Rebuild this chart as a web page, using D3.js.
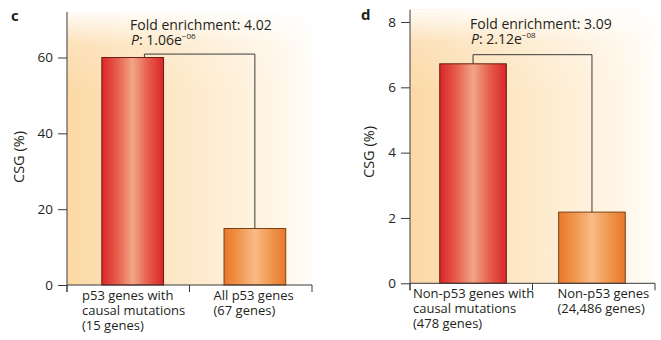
<!DOCTYPE html>
<html><head><meta charset="utf-8">
<script src="https://cdn.jsdelivr.net/npm/d3@7"></script>
<style>
body{margin:0;background:#fff;}
text{font-family:"Open Sans","Noto Sans",sans-serif;fill:#231f20;}
</style></head>
<body><svg id="chart" width="661" height="340"></svg>
<script>
// ---- data ----
const panelLetters = ["c", "d"];
const categoriesC = ["p53 genes with causal mutations", "All p53 genes"];
const categoryLinesC = [["p53 genes with", "causal mutations", "(15 genes)"], ["All p53 genes", "(67 genes)"]];
const valuesC = [60, 14.9];
const ticksC = [0, 20, 40, 60];
const foldC = "4.02";
const pValueC = ["1.06e", "−06"];

const categoriesD = ["Non-p53 genes with causal mutations", "Non-p53 genes"];
const categoryLinesD = [["Non-p53 genes with", "causal mutations", "(478 genes)"], ["Non-p53 genes", "(24,486 genes)"]];
const valuesD = [6.72, 2.18];
const ticksD = [0, 2, 4, 6, 8];
const foldD = "3.09";
const pValueD = ["2.12e", "−08"];

const yLabel = "CSG (%)";

// ---- drawing ----
const svg = d3.select("#chart");
const defs = svg.append("defs");

function grad(id, stops, x2 = "100%", y2 = "0%") {
  const g = defs.append("linearGradient").attr("id", id)
    .attr("x1", "0%").attr("y1", "0%").attr("x2", x2).attr("y2", y2);
  stops.forEach(([o, c, op]) => g.append("stop").attr("offset", o).attr("stop-color", c).attr("stop-opacity", op === undefined ? 1 : op));
}
grad("bgH", [["0%", "#fcd9a6"], ["45%", "#fde8c6"], ["85%", "#fff5e6"], ["100%", "#fffdf9"]]);
grad("bgV", [["0%", "#ffffff", 0.9], ["12%", "#ffffff", 0.2], ["30%", "#ffffff", 0]], "0%", "100%");
grad("redBar", [["0%", "#da2529"], ["25%", "#e65e4b"], ["50%", "#f2a588"], ["75%", "#e65e4b"], ["100%", "#da2529"]]);
grad("orangeBar", [["0%", "#e8772a"], ["25%", "#f0984f"], ["50%", "#f8bb88"], ["75%", "#f0984f"], ["100%", "#e8772a"]]);

const panels = [
  { letter: panelLetters[0], cats: categoriesC, lines: categoryLinesC, vals: valuesC, ticks: ticksC,
    fold: foldC, pv: pValueC, max: 72, x0: 67, x1: 312, yTop: 12, yBase: 285, align: 0.57, pin: 0.495,
    bracketVal: 60.9, bracketFrac: 0.69, labelDx: [15, 24], letterX: 11, letterY: 21, ylabX: 24, ylabY: 157,
    annX: 130, annY: 30 },
  { letter: panelLetters[1], cats: categoriesD, lines: categoryLinesD, vals: valuesD, ticks: ticksD,
    fold: foldD, pv: pValueD, max: 8.38, x0: 410, x1: 655, yTop: 9.6, yBase: 283.3, align: 0.5, pin: 0.44,
    bracketVal: 7.0, bracketFrac: 0.5, labelDx: [3, 25], letterX: 361, letterY: 20, ylabX: 374, ylabY: 152,
    annX: 470, annY: 29 }
];

panels.forEach(p => {
  const g = svg.append("g");
  const y = d3.scaleLinear().domain([0, p.max]).range([p.yBase, p.yTop]);
  const xb = d3.scaleBand().domain(p.cats).range([p.x0, p.x1]).paddingInner(p.pin).paddingOuter(0.25).align(p.align);
  const xSlots = d3.scaleBand().domain(p.cats).range([p.x0, p.x1]);

  // background
  g.append("rect").attr("x", p.x0).attr("y", y(p.max)).attr("width", p.x1 - p.x0).attr("height", y(0) - y(p.max)).attr("fill", "url(#bgH)");
  g.append("rect").attr("x", p.x0).attr("y", y(p.max)).attr("width", p.x1 - p.x0).attr("height", y(0) - y(p.max)).attr("fill", "url(#bgV)");

  // bars
  g.selectAll("rect.bar").data(p.vals).join("rect").attr("class", "bar")
    .attr("x", (d, i) => xb(p.cats[i])).attr("width", xb.bandwidth())
    .attr("y", d => y(d)).attr("height", d => y(0) - y(d))
    .attr("fill", (d, i) => i === 0 ? "url(#redBar)" : "url(#orangeBar)")
    .attr("stroke", (d, i) => i === 0 ? "#6b1d14" : "#7a4218").attr("stroke-width", 1);

  // bracket
  const bx1 = xb(p.cats[0]) + xb.bandwidth() * p.bracketFrac;
  const bx2 = xb(p.cats[1]) + xb.bandwidth() / 2;
  const by = y(p.bracketVal);
  g.append("path")
    .attr("d", `M${bx1},${y(p.vals[0])}V${by}H${bx2}V${y(p.vals[1])}`)
    .attr("fill", "none").attr("stroke", "#3a3a3a").attr("stroke-width", 1);

  // y axis
  const ya = d3.axisLeft(y).tickValues(p.ticks).tickSize(9).tickPadding(5);
  const yg = g.append("g").attr("transform", `translate(${p.x0},0)`).call(ya);
  yg.select(".domain").remove();
  yg.selectAll("line").attr("stroke", "#3a3a3a");
  yg.selectAll("text").attr("font-size", 13.5).style("font-family", '"Open Sans","Noto Sans",sans-serif').attr("fill", "#231f20");
  g.append("line").attr("x1", p.x0).attr("x2", p.x0).attr("y1", y(p.max)).attr("y2", y(0) + 7).attr("stroke", "#3a3a3a");

  // x axis
  g.append("line").attr("x1", p.x0).attr("x2", p.x1).attr("y1", y(0)).attr("y2", y(0)).attr("stroke", "#3a3a3a");
  const bounds = [p.x0].concat(p.cats.map(c => xSlots(c) + xSlots.bandwidth()));
  g.selectAll("line.xt").data(bounds).join("line").attr("class", "xt")
    .attr("x1", d => d).attr("x2", d => d).attr("y1", y(0)).attr("y2", y(0) + 7).attr("stroke", "#3a3a3a");

  // category labels
  p.lines.forEach((ls, i) => {
    const t = g.append("text").attr("x", xSlots(p.cats[i]) + p.labelDx[i]).attr("y", y(0) + 15).attr("font-size", 13);
    ls.forEach((l, j) => t.append("tspan").attr("x", xSlots(p.cats[i]) + p.labelDx[i]).attr("dy", j === 0 ? 0 : 15).text(l));
  });

  // y label
  g.append("text").attr("transform", `translate(${p.ylabX},${p.ylabY}) rotate(-90)`)
    .attr("text-anchor", "middle").attr("font-size", 14.5).text(yLabel);

  // panel letter
  g.append("text").attr("x", p.letterX).attr("y", p.letterY).attr("font-size", 15).attr("font-weight", "bold").text(p.letter);

  // annotation (one text block, two lines)
  const at = g.append("text").attr("x", p.annX).attr("y", p.annY).attr("font-size", 14);
  at.append("tspan").attr("x", p.annX).text("Fold enrichment: " + p.fold);
  at.append("tspan").attr("x", p.annX + 1).attr("dy", 15).attr("font-style", "italic").text("P");
  at.append("tspan").text(": " + p.pv[0]);
  at.append("tspan").attr("font-size", 8).attr("dy", -6).text(p.pv[1]);
});
</script></body></html>
